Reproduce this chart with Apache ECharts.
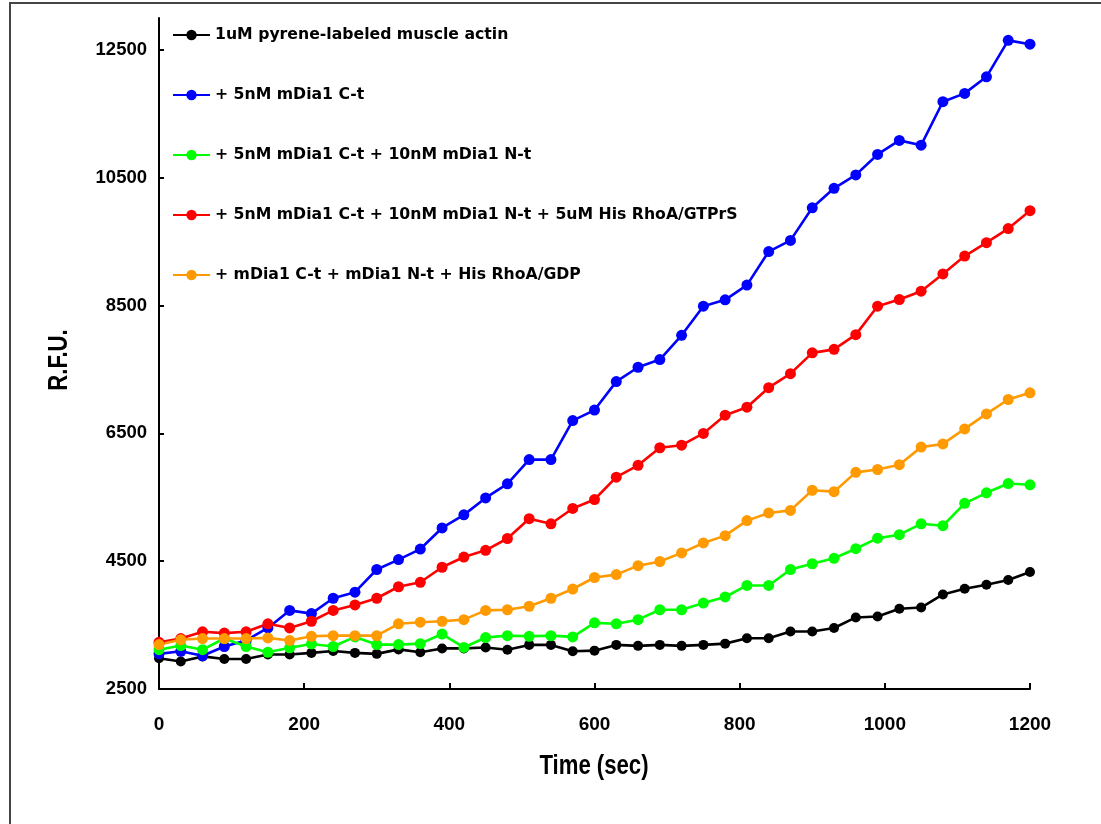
<!DOCTYPE html>
<html>
<head>
<meta charset="utf-8">
<script src="https://cdn.jsdelivr.net/npm/echarts@6/dist/echarts.min.js"></script>
<style>
  html, body { margin: 0; padding: 0; background: #fff; }
  #chart { width: 1101px; height: 824px; }
</style>
</head>
<body>
<div id="chart"></div>
<script>
// time points (sec)
const times = [0, 30, 60, 90, 120, 150, 180, 210, 240, 270, 300, 330, 360, 390, 420, 450, 480, 510, 540, 570, 600,
  630, 660, 690, 720, 750, 780, 810, 840, 870, 900, 930, 960, 990, 1020, 1050, 1080, 1110, 1140, 1170, 1200]

const actinOnly = [2980, 2930, 3010, 2970, 2970, 3040, 3040, 3065, 3095, 3065, 3050, 3120, 3075, 3135, 3135, 3150, 3115, 3190, 3190, 3090, 3100,
  3190, 3175, 3190, 3175, 3190, 3210, 3295, 3295, 3400, 3400, 3455, 3620, 3635, 3755, 3775, 3980, 4070, 4130, 4205, 4330]
const mDiaCt = [3050, 3090, 3020, 3165, 3260, 3455, 3730, 3680, 3920, 4015, 4370, 4525, 4690, 5020, 5225, 5490, 5710, 6090, 6090, 6700, 6865,
  7310, 7535, 7655, 8035, 8490, 8590, 8820, 9345, 9520, 10030, 10335, 10545, 10865, 11085, 11010, 11690, 11820, 12080, 12650, 12590]
const mDiaCtNt = [3115, 3180, 3115, 3290, 3165, 3075, 3145, 3205, 3165, 3315, 3195, 3195, 3210, 3360, 3150, 3305, 3335, 3325, 3335, 3315, 3535,
  3520, 3585, 3740, 3740, 3845, 3940, 4120, 4120, 4370, 4460, 4545, 4695, 4860, 4915, 5085, 5055, 5405, 5570, 5715, 5695]
const mDiaGTP = [3230, 3290, 3395, 3375, 3395, 3520, 3455, 3560, 3730, 3815, 3920, 4100, 4170, 4405, 4565, 4670, 4855, 5165, 5085, 5325, 5465,
  5815, 6000, 6275, 6315, 6500, 6785, 6910, 7215, 7435, 7760, 7815, 8045, 8490, 8595, 8725, 8995, 9275, 9485, 9705, 9985]
const mDiaGDP = [3195, 3270, 3290, 3290, 3290, 3300, 3260, 3325, 3335, 3335, 3335, 3520, 3545, 3560, 3585, 3730, 3740, 3795, 3920, 4065, 4245,
  4290, 4430, 4495, 4630, 4785, 4900, 5135, 5255, 5295, 5610, 5588, 5890, 5935, 6010, 6285, 6335, 6570, 6805, 7030, 7135]

const seriesNames = [
  '1uM pyrene-labeled muscle actin',
  '+ 5nM mDia1 C-t',
  '+ 5nM mDia1 C-t + 10nM mDia1 N-t',
  '+ 5nM mDia1 C-t + 10nM mDia1 N-t + 5uM His RhoA/GTPrS',
  '+ mDia1 C-t + mDia1 N-t + His RhoA/GDP'
]
const seriesValues = [actinOnly, mDiaCt, mDiaCtNt, mDiaGTP, mDiaGDP]
const colors = ['#000000', '#0000ff', '#00ff00', '#ff0000', '#ff9a00']

const yTicks = [2500, 4500, 6500, 8500, 10500, 12500]
const xTicks = [0, 200, 400, 600, 800, 1000, 1200]

const chart = echarts.init(document.getElementById('chart'))

let series = seriesValues.map((vals, i) => {
  return {
    name: seriesNames[i],
    type: 'line',
    data: times.map((t, j) => [t, vals[j]]),
    symbol: 'circle',
    symbolSize: i == 0 ? 10 : 11,
    color: colors[i],
    lineStyle: { width: 2.6, color: colors[i] },
    itemStyle: { color: colors[i] }
  }
})

const tickFont = { color: '#000', fontWeight: 'bold', fontFamily: 'Liberation Sans, Arial, sans-serif' }
// axis titles look like a narrow bold face, so squeeze a normal one
const nameFont = { fill: '#000', fontWeight: 'bold', fontSize: 27, fontFamily: 'Liberation Sans, Arial, sans-serif', align: 'center', verticalAlign: 'middle' }

const options = {
  animation: false,
  backgroundColor: '#fff',
  graphic: [
    {
      type: 'rect',
      shape: { x: 10, y: 3, width: 1200, height: 900 },
      style: { fill: 'none', stroke: '#444', lineWidth: 2 },
      silent: true
    },
    {
      type: 'text',
      x: 594,
      y: 767,
      scaleX: 0.82,
      style: Object.assign({ text: 'Time (sec)' }, nameFont),
      silent: true
    },
    {
      type: 'text',
      x: 60,
      y: 360,
      rotation: Math.PI / 2,
      scaleX: 0.82,
      style: Object.assign({ text: 'R.F.U.' }, nameFont),
      silent: true
    }
  ],
  legend: {
    orient: 'vertical',
    left: 167,
    top: 22,
    itemWidth: 37,
    itemHeight: 13,
    itemGap: 44,
    itemTextGap: 6,
    textStyle: { color: '#000', fontWeight: 'bold', fontSize: 15.7, fontFamily: '"DejaVu Sans", sans-serif' },
    data: seriesNames
  },
  grid: {
    left: 159,
    right: 71,
    top: 18,
    bottom: 135
  },
  xAxis: {
    type: 'value',
    min: 0,
    max: 1200,
    interval: 200,
    axisLine: { lineStyle: { color: '#000', width: 2 } },
    axisTick: { inside: true, length: 6, lineStyle: { color: '#000', width: 2 } },
    axisLabel: Object.assign({ margin: 26, fontSize: 19, customValues: xTicks, formatter: v => String(v) }, tickFont),
    splitLine: { show: false }
  },
  yAxis: {
    type: 'value',
    min: 2500,
    max: 13000,
    axisLine: { show: true, lineStyle: { color: '#000', width: 2 } },
    axisTick: { show: true, inside: true, length: 5, customValues: yTicks, lineStyle: { color: '#000', width: 2 } },
    axisLabel: Object.assign({ margin: 12, fontSize: 18.5, customValues: yTicks, formatter: v => String(v) }, tickFont),
    splitLine: { show: false }
  },
  series: series
}
chart.setOption(options)
</script>
</body>
</html>
